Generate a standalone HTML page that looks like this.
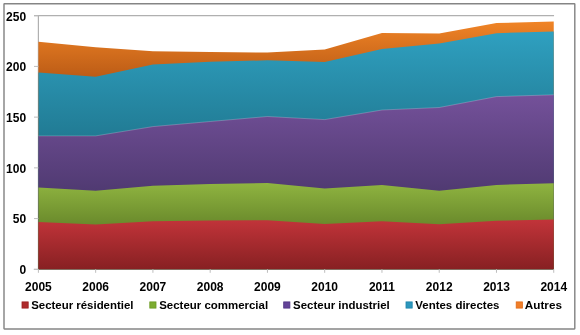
<!DOCTYPE html>
<html><head><meta charset="utf-8"><style>
html,body{margin:0;padding:0;background:#fff;width:580px;height:335px;overflow:hidden;font-family:"Liberation Sans", sans-serif;}
svg{display:block;will-change:transform}
</style></head><body>
<svg width="580" height="335" viewBox="0 0 580 335">
<defs><linearGradient id="gr" gradientUnits="userSpaceOnUse" x1="0" y1="219.40" x2="0" y2="269.30"><stop offset="0" stop-color="#c2343a"/><stop offset="1" stop-color="#872022"/></linearGradient><linearGradient id="gg" gradientUnits="userSpaceOnUse" x1="0" y1="182.90" x2="0" y2="224.50"><stop offset="0" stop-color="#8fb440"/><stop offset="1" stop-color="#6a8a2c"/></linearGradient><linearGradient id="gp" gradientUnits="userSpaceOnUse" x1="0" y1="94.80" x2="0" y2="190.80"><stop offset="0" stop-color="#74519a"/><stop offset="1" stop-color="#503a72"/></linearGradient><linearGradient id="gb" gradientUnits="userSpaceOnUse" x1="0" y1="31.50" x2="0" y2="135.90"><stop offset="0" stop-color="#2fa0c0"/><stop offset="1" stop-color="#217b94"/></linearGradient><linearGradient id="go" gradientUnits="userSpaceOnUse" x1="0" y1="21.60" x2="0" y2="76.70"><stop offset="0" stop-color="#f08426"/><stop offset="1" stop-color="#bc5c16"/></linearGradient></defs>
<rect x="0" y="0" width="580" height="335" fill="#ffffff"/>
<rect x="4.0" y="3.8" width="570.8" height="325.1" rx="0.4" fill="none" stroke="#858585" stroke-width="1.45"/>
<line x1="34.0" y1="15.7" x2="554.04" y2="15.7" stroke="#b0b0b0" stroke-width="1.3"/>
<line x1="38.4" y1="15.7" x2="38.4" y2="269.8" stroke="#b0b0b0" stroke-width="1.2"/><line x1="33.7" y1="269.3" x2="554.04" y2="269.3" stroke="#c0c0c0" stroke-width="1"/>
<polygon points="38.40,41.80 95.66,47.30 152.92,51.30 210.18,51.90 267.44,52.60 324.70,49.40 381.96,33.00 439.22,33.50 496.48,23.00 553.74,21.60 553.74,269.30 496.48,269.30 439.22,269.30 381.96,269.30 324.70,269.30 267.44,269.30 210.18,269.30 152.92,269.30 95.66,269.30 38.40,269.30" fill="url(#go)"/><polygon points="38.40,72.60 95.66,76.70 152.92,64.50 210.18,61.70 267.44,60.30 324.70,61.90 381.96,49.00 439.22,43.60 496.48,33.20 553.74,31.50 553.74,269.30 496.48,269.30 439.22,269.30 381.96,269.30 324.70,269.30 267.44,269.30 210.18,269.30 152.92,269.30 95.66,269.30 38.40,269.30" fill="url(#gb)"/><polygon points="38.40,135.90 95.66,135.90 152.92,126.60 210.18,121.50 267.44,116.50 324.70,119.60 381.96,110.00 439.22,107.50 496.48,96.60 553.74,94.80 553.74,269.30 496.48,269.30 439.22,269.30 381.96,269.30 324.70,269.30 267.44,269.30 210.18,269.30 152.92,269.30 95.66,269.30 38.40,269.30" fill="url(#gp)"/><polygon points="38.40,187.40 95.66,190.80 152.92,185.80 210.18,184.10 267.44,182.90 324.70,188.50 381.96,185.00 439.22,190.80 496.48,184.90 553.74,183.20 553.74,269.30 496.48,269.30 439.22,269.30 381.96,269.30 324.70,269.30 267.44,269.30 210.18,269.30 152.92,269.30 95.66,269.30 38.40,269.30" fill="url(#gg)"/><polygon points="38.40,222.00 95.66,224.50 152.92,221.30 210.18,220.60 267.44,220.20 324.70,224.10 381.96,221.30 439.22,224.30 496.48,220.80 553.74,219.40 553.74,269.30 496.48,269.30 439.22,269.30 381.96,269.30 324.70,269.30 267.44,269.30 210.18,269.30 152.92,269.30 95.66,269.30 38.40,269.30" fill="url(#gr)"/>
<polyline points="38.40,135.90 95.66,135.90 152.92,126.60 210.18,121.50 267.44,116.50 324.70,119.60 381.96,110.00 439.22,107.50 496.48,96.60 553.74,94.80" fill="none" stroke="#ffffff" stroke-opacity="0.3" stroke-width="0.7"/>
<line x1="34.0" y1="269.30" x2="38.4" y2="269.30" stroke="#bdbdbd" stroke-width="1"/><line x1="34.0" y1="218.58" x2="38.4" y2="218.58" stroke="#bdbdbd" stroke-width="1"/><line x1="34.0" y1="167.86" x2="38.4" y2="167.86" stroke="#bdbdbd" stroke-width="1"/><line x1="34.0" y1="117.14" x2="38.4" y2="117.14" stroke="#bdbdbd" stroke-width="1"/><line x1="34.0" y1="66.42" x2="38.4" y2="66.42" stroke="#bdbdbd" stroke-width="1"/><line x1="34.0" y1="15.70" x2="38.4" y2="15.70" stroke="#bdbdbd" stroke-width="1"/><line x1="38.40" y1="269.3" x2="38.40" y2="272.8" stroke="#bdbdbd" stroke-width="1"/><line x1="95.66" y1="269.3" x2="95.66" y2="272.8" stroke="#bdbdbd" stroke-width="1"/><line x1="152.92" y1="269.3" x2="152.92" y2="272.8" stroke="#bdbdbd" stroke-width="1"/><line x1="210.18" y1="269.3" x2="210.18" y2="272.8" stroke="#bdbdbd" stroke-width="1"/><line x1="267.44" y1="269.3" x2="267.44" y2="272.8" stroke="#bdbdbd" stroke-width="1"/><line x1="324.70" y1="269.3" x2="324.70" y2="272.8" stroke="#bdbdbd" stroke-width="1"/><line x1="381.96" y1="269.3" x2="381.96" y2="272.8" stroke="#bdbdbd" stroke-width="1"/><line x1="439.22" y1="269.3" x2="439.22" y2="272.8" stroke="#bdbdbd" stroke-width="1"/><line x1="496.48" y1="269.3" x2="496.48" y2="272.8" stroke="#bdbdbd" stroke-width="1"/><line x1="553.74" y1="269.3" x2="553.74" y2="272.8" stroke="#bdbdbd" stroke-width="1"/>
<g font-family="'Liberation Sans', sans-serif" font-weight="bold" font-size="11.7" fill="#000">
<text x="26.1" y="274.10" text-anchor="end" font-size="12">0</text><text x="26.1" y="223.38" text-anchor="end" font-size="12">50</text><text x="26.1" y="172.66" text-anchor="end" font-size="12">100</text><text x="26.1" y="121.94" text-anchor="end" font-size="12">150</text><text x="26.1" y="71.22" text-anchor="end" font-size="12">200</text><text x="26.1" y="20.50" text-anchor="end" font-size="12">250</text><text x="38.40" y="291.1" text-anchor="middle" font-size="12">2005</text><text x="95.66" y="291.1" text-anchor="middle" font-size="12">2006</text><text x="152.92" y="291.1" text-anchor="middle" font-size="12">2007</text><text x="210.18" y="291.1" text-anchor="middle" font-size="12">2008</text><text x="267.44" y="291.1" text-anchor="middle" font-size="12">2009</text><text x="324.70" y="291.1" text-anchor="middle" font-size="12">2010</text><text x="381.96" y="291.1" text-anchor="middle" font-size="12">2011</text><text x="439.22" y="291.1" text-anchor="middle" font-size="12">2012</text><text x="496.48" y="291.1" text-anchor="middle" font-size="12">2013</text><text x="553.74" y="291.1" text-anchor="middle" font-size="12">2014</text>
<rect x="22.0" y="301.9" width="6.2" height="6.2" fill="#ae2a2c" stroke="#9c1e20" stroke-width="0.8"/><text x="31.2" y="308.7" textLength="102.3" lengthAdjust="spacingAndGlyphs">Secteur résidentiel</text><rect x="149.8" y="301.9" width="6.2" height="6.2" fill="#7cac30" stroke="#6a9a22" stroke-width="0.8"/><text x="159.2" y="308.7" textLength="108.9" lengthAdjust="spacingAndGlyphs">Secteur commercial</text><rect x="283.7" y="301.9" width="6.2" height="6.2" fill="#644498" stroke="#4e3282" stroke-width="0.8"/><text x="293.1" y="308.7" textLength="96.7" lengthAdjust="spacingAndGlyphs">Secteur industriel</text><rect x="406.0" y="301.9" width="6.2" height="6.2" fill="#2c96bc" stroke="#1c84aa" stroke-width="0.8"/><text x="415.3" y="308.7" textLength="84.1" lengthAdjust="spacingAndGlyphs">Ventes directes</text><rect x="516.1999999999999" y="301.9" width="6.2" height="6.2" fill="#f07e28" stroke="#e06a16" stroke-width="0.8"/><text x="524.8" y="308.7" textLength="37.2" lengthAdjust="spacingAndGlyphs">Autres</text>
</g>
</svg>
</body></html>
